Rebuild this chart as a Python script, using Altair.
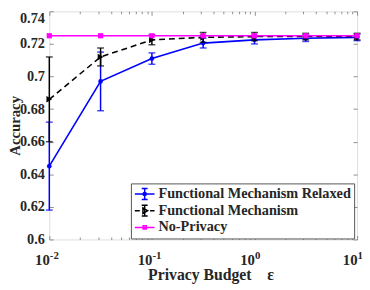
import altair as alt
import pandas as pd

# ---- data ----
eps = [0.01, 0.0316, 0.1, 0.316, 1.0, 3.16, 10.0]
fmr_acc = [0.645, 0.697, 0.711, 0.7205, 0.7225, 0.7235, 0.724]
fmr_err = [0.027, 0.018, 0.0035, 0.003, 0.0025, 0.002, 0.002]
fm_acc = [0.686, 0.712, 0.7225, 0.724, 0.7245, 0.7245, 0.7245]
fm_err = [0.026, 0.0055, 0.003, 0.003, 0.0025, 0.002, 0.002]
np_acc = [0.725, 0.725, 0.725, 0.725, 0.725, 0.725, 0.725]
np_err = [0.0, 0.0, 0.0, 0.0, 0.0, 0.0, 0.0]

series = ["Functional Mechanism Relaxed", "Functional Mechanism", "No-Privacy"]
colors = ["#0000ff", "#000000", "#ff00ff"]

x_major = [0.01, 0.1, 1, 10]
x_base = "10"
x_exponents = ["-2", "-1", "0", "1"]
x_minor = [0.02, 0.03, 0.04, 0.05, 0.06, 0.07, 0.08, 0.09,
           0.2, 0.3, 0.4, 0.5, 0.6, 0.7, 0.8, 0.9,
           2, 3, 4, 5, 6, 7, 8, 9]
y_ticks = [0.6, 0.62, 0.64, 0.66, 0.68, 0.7, 0.72, 0.74]
x_title = "Privacy Budget\u00a0\u00a0\u00a0\u00a0ε"
y_title = "Accuracy"

FONT = "Times New Roman"
TXT = "#262626"
GRAY = "#8c8c8c"


def frame(vals, errs):
    return pd.DataFrame({
        "eps": eps,
        "acc": vals,
        "lo": [v - e for v, e in zip(vals, errs)],
        "hi": [v + e for v, e in zip(vals, errs)],
    })


xs = alt.Scale(type="log", domain=[0.01, 10], nice=False)
ys = alt.Scale(domain=[0.6, 0.74], nice=False, zero=False)

exp_expr = " : ".join(
    f"datum.value < {v * 1.5} ? '{t}'" for v, t in zip(x_major[:-1], x_exponents[:-1])
) + f" : '{x_exponents[-1]}'"

x_main = alt.Axis(orient="bottom", values=x_major, labelExpr=f"'{x_base}'",
                  labelAlign="right", labelOffset=0,
                  ticks=False, tickSize=0, domain=False, grid=False,
                  labelFont=FONT, labelFontWeight="bold", labelFontSize=15,
                  labelColor=TXT, labelPadding=13,
                  title=x_title, titleFont=FONT, titleFontWeight="bold",
                  titleFontSize=16, titleColor=TXT, titlePadding=0, titleX=164)
x_sup = alt.Axis(orient="bottom", values=x_major, labelExpr=exp_expr,
                 labelAlign="left", labelOffset=0,
                 ticks=False, tickSize=0, domain=False, grid=False,
                 labelFont=FONT, labelFontWeight="bold", labelFontSize=11,
                 labelColor=TXT, labelPadding=10, title=None)
y_main = alt.Axis(orient="left", values=y_ticks, format=".2~f",
                  ticks=False, tickSize=0, domain=False, grid=False,
                  labelFont=FONT, labelFontWeight="bold", labelFontSize=14.5,
                  labelColor=TXT, labelPadding=5,
                  labelBaseline={"condition": {"test": "datum.value > 0.739", "value": "top"},
                                 "value": "middle"},
                  title=y_title, titleFont=FONT, titleFontWeight="bold",
                  titleFontSize=15, titleColor=TXT, titleX=-27)


def tick_axis(orient, values, size):
    return alt.Axis(orient=orient, values=values, ticks=True, tickSize=size,
                    offset=-size, tickColor=GRAY, tickWidth=1, labels=False,
                    domain=False, grid=False, title=None)


x_axes = [x_main, x_sup,
          tick_axis("bottom", x_major, 4), tick_axis("bottom", x_minor, 2.5),
          tick_axis("top", x_major, 4), tick_axis("top", x_minor, 2.5)]
y_axes = [y_main, tick_axis("left", y_ticks, 4), tick_axis("right", y_ticks, 4)]

layers = []
specs = [
    (frame(fmr_acc, fmr_err), colors[0], "circle", 22, None),
    (frame(fm_acc, fm_err), colors[1], "triangle-right", 45, [6, 4]),
    (frame(np_acc, np_err), colors[2], "square", 28, None),
]


def xa(i):
    return x_axes[i] if i < len(x_axes) else None


def ya(i):
    return y_axes[i] if i < len(y_axes) else None


ax_i = 0
for k, (d, col, shp, sz, dash) in enumerate(specs):
    base = alt.Chart(d)
    line_kw = dict(color=col, strokeWidth=1.6)
    if dash:
        line_kw["strokeDash"] = dash
    line = base.mark_line(**line_kw).encode(
        x=alt.X("eps:Q", scale=xs, axis=xa(ax_i)),
        y=alt.Y("acc:Q", scale=ys, axis=ya(ax_i)))
    ax_i += 1
    parts = [line]
    if k < 2:
        rule = base.mark_rule(color=col, strokeWidth=1.5).encode(
            x=alt.X("eps:Q", scale=xs, axis=xa(ax_i)),
            y=alt.Y("lo:Q", scale=ys, axis=ya(ax_i)), y2="hi:Q")
        ax_i += 1
        cap_lo = base.mark_tick(color=col, orient="horizontal", size=7, thickness=1.5).encode(
            x=alt.X("eps:Q", scale=xs, axis=xa(ax_i)),
            y=alt.Y("lo:Q", scale=ys, axis=ya(ax_i)))
        ax_i += 1
        cap_hi = base.mark_tick(color=col, orient="horizontal", size=7, thickness=1.5).encode(
            x=alt.X("eps:Q", scale=xs, axis=xa(ax_i)),
            y=alt.Y("hi:Q", scale=ys, axis=None))
        ax_i += 1
        parts += [rule, cap_lo, cap_hi]
    pts = base.mark_point(filled=True, shape=shp, size=sz, color=col, opacity=1).encode(
        x=alt.X("eps:Q", scale=xs, axis=xa(ax_i)),
        y=alt.Y("acc:Q", scale=ys, axis=None))
    ax_i += 1
    parts.append(pts)
    layers += parts

# legend symbols (line + error bar + marker), unit coordinates
paths = [
    "M-1,0H1M0,-0.55V0.55M-0.3,-0.55H0.3M-0.3,0.55H0.3"
    "M-0.16,0A0.16,0.16 0 1,0 0.16,0A0.16,0.16 0 1,0 -0.16,0Z",
    "M-1,0H-0.5M0.55,0H1M0,-0.55V0.55M-0.3,-0.55H0.3M-0.3,0.55H0.3"
    "M-0.18,-0.28L0.3,0L-0.18,0.28Z",
    "M-1,0H1M-0.16,-0.16H0.16V0.16H-0.16Z",
]
leg = alt.Legend(orient="none", legendX=83, legendY=175, title=None,
                 symbolSize=400, symbolStrokeWidth=1.5,
                 labelFont=FONT, labelFontWeight="bold", labelFontSize=14.5,
                 labelColor=TXT, labelOffset=3, labelLimit=0,
                 strokeColor="#555555", fillColor="white", padding=3,
                 rowPadding=0, clipHeight=15.5)
legend_df = pd.DataFrame({"series": series, "eps": [eps[0]] * 3, "acc": [0.725] * 3})
legend_layer = alt.Chart(legend_df).mark_point(filled=True, opacity=0).encode(
    x=alt.X("eps:Q", scale=xs, axis=None),
    y=alt.Y("acc:Q", scale=ys, axis=None),
    stroke=alt.Stroke("series:N", scale=alt.Scale(domain=series, range=colors), legend=leg),
    fill=alt.Fill("series:N", scale=alt.Scale(domain=series, range=colors), legend=leg),
    shape=alt.Shape("series:N", scale=alt.Scale(domain=series, range=paths), legend=leg),
)
layers.append(legend_layer)

chart = alt.layer(*layers).resolve_axis(x="independent", y="independent").properties(
    width=313, height=232,
    autosize=alt.AutoSizeParams(type="none"),
    padding={"left": 42, "top": 1, "right": 5, "bottom": 48},
    background="white",
).configure_view(
    stroke="#999999", strokeWidth=1
).configure_legend(
    labelFont=FONT, labelFontWeight="bold"
).configure_axis(
    labelFont=FONT, titleFont=FONT
).configure(font=FONT)

chart.save("out.html", embed_options={"renderer": "svg", "actions": False})
